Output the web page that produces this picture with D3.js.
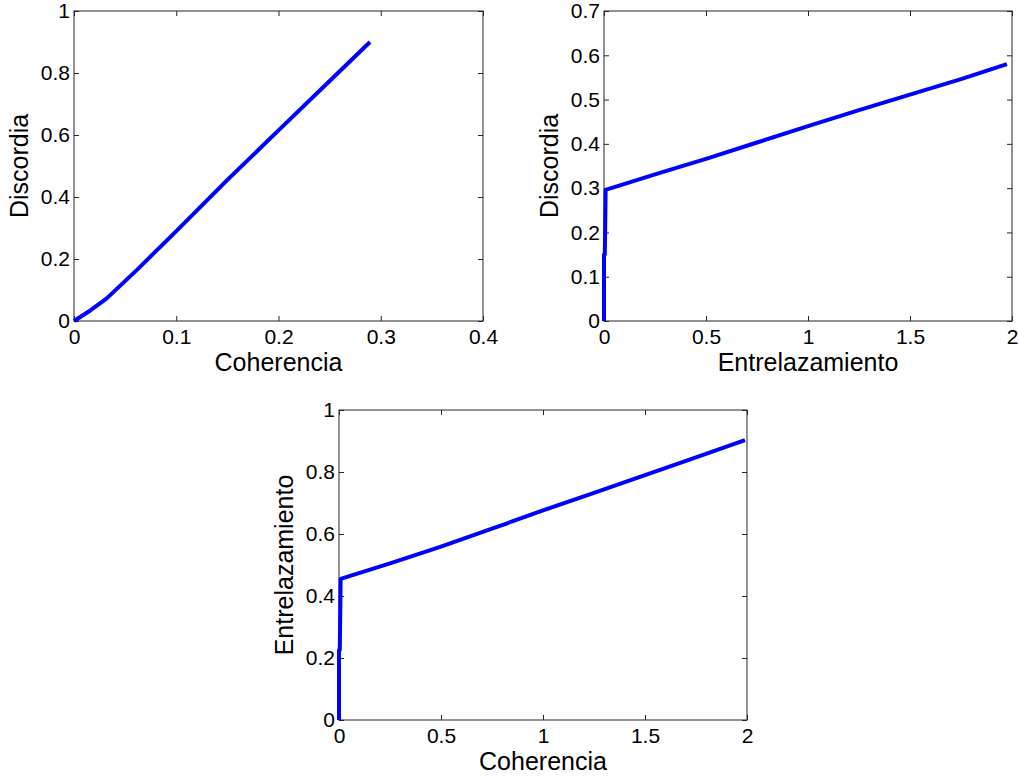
<!DOCTYPE html>
<html>
<head>
<meta charset="utf-8">
<script src="https://cdn.jsdelivr.net/npm/d3@7"></script>
<style>
  html, body { margin: 0; padding: 0; background: #fff; }
  svg { display: block; font-family: "Liberation Sans", Arial, Helvetica, sans-serif; }
</style>
</head>
<body>
<svg id="fig" width="1019" height="778"></svg>
<script>
// Discordia vs Coherencia
const coherenciaA = [0, 0.016, 0.032, 0.0616, 0.1, 0.15, 0.2, 0.25, 0.2895];
const discordiaA  = [0, 0.034, 0.073, 0.165, 0.29, 0.455, 0.615, 0.774, 0.90];

// Discordia vs Entrelazamiento
const entrelazamientoB = [0, 0, 0.004, 0.008, 0.25, 0.5, 0.75, 1.0, 1.25, 1.5, 1.75, 1.975];
const discordiaB       = [0, 0.15, 0.15, 0.296, 0.331, 0.366, 0.403, 0.44, 0.476, 0.511, 0.546, 0.58];

// Entrelazamiento vs Coherencia
const coherenciaC      = [0, 0, 0.004, 0.008, 0.25, 0.5, 0.75, 1.0, 1.25, 1.5, 1.75, 1.99];
const entrelazamientoC = [0, 0.226, 0.226, 0.455, 0.505, 0.559, 0.617, 0.676, 0.733, 0.79, 0.847, 0.903];

// Axis ticks
const ticksA_x = [0, 0.1, 0.2, 0.3, 0.4];
const ticksA_y = [0, 0.2, 0.4, 0.6, 0.8, 1];
const ticksB_x = [0, 0.5, 1, 1.5, 2];
const ticksB_y = [0, 0.1, 0.2, 0.3, 0.4, 0.5, 0.6, 0.7];
const ticksC_x = [0, 0.5, 1, 1.5, 2];
const ticksC_y = [0, 0.2, 0.4, 0.6, 0.8, 1];

const svg = d3.select("#fig");
const fmt = d => String(+d.toFixed(4));

function panel(opt) {
  const { left, top, right, bottom } = opt.box;
  const x = d3.scaleLinear().domain(opt.xDomain).range([left, right]);
  const y = d3.scaleLinear().domain(opt.yDomain).range([bottom, top]);
  const g = svg.append("g");
  const tickLen = 5;
  const axisColor = "#262626";

  // frame
  g.append("rect")
    .attr("x", left).attr("y", top)
    .attr("width", right - left).attr("height", bottom - top)
    .attr("fill", "none").attr("stroke", axisColor).attr("stroke-width", 1);

  // inward ticks on all four sides
  const bx = d3.axisBottom(x).tickValues(opt.xTicks).tickSizeInner(-tickLen).tickSizeOuter(0).tickFormat(fmt).tickPadding(8);
  const tx = d3.axisTop(x).tickValues(opt.xTicks).tickSizeInner(-tickLen).tickSizeOuter(0).tickFormat("");
  const ly = d3.axisLeft(y).tickValues(opt.yTicks).tickSizeInner(-tickLen).tickSizeOuter(0).tickFormat(fmt).tickPadding(4);
  const ry = d3.axisRight(y).tickValues(opt.yTicks).tickSizeInner(-tickLen).tickSizeOuter(0).tickFormat("");

  const axes = [
    g.append("g").attr("transform", `translate(0,${bottom})`).call(bx),
    g.append("g").attr("transform", `translate(0,${top})`).call(tx),
    g.append("g").attr("transform", `translate(${left},0)`).call(ly),
    g.append("g").attr("transform", `translate(${right},0)`).call(ry)
  ];
  axes.forEach(a => {
    a.select(".domain").remove();
    a.selectAll("line").attr("stroke", axisColor);
    a.selectAll("text").attr("fill", "#000").style("font-size", "21px")
      .style("font-family", '"Liberation Sans", Arial, sans-serif');
  });
  axes[0].selectAll("text").attr("dy", "0.71em");

  // data line
  const pts = opt.xs.map((v, i) => [v, opt.ys[i]]);
  g.append("path")
    .datum(pts)
    .attr("fill", "none")
    .attr("stroke", "#0000ff")
    .attr("stroke-width", 4)
    .attr("stroke-linejoin", "round")
    .attr("stroke-linecap", "butt")
    .attr("d", d3.line().x(d => x(d[0])).y(d => y(d[1])));

  // axis labels
  g.append("text")
    .attr("x", (left + right) / 2).attr("y", bottom + 50)
    .attr("text-anchor", "middle")
    .style("font-size", "25px")
    .text(opt.xLabel);
  g.append("text")
    .attr("transform", `translate(${left - 46},${(top + bottom) / 2}) rotate(-90)`)
    .attr("text-anchor", "middle")
    .style("font-size", "25px")
    .text(opt.yLabel);
}

panel({
  box: { left: 74, top: 11, right: 483, bottom: 321 },
  xDomain: [0, 0.4], yDomain: [0, 1],
  xTicks: ticksA_x, yTicks: ticksA_y,
  xs: coherenciaA, ys: discordiaA,
  xLabel: "Coherencia", yLabel: "Discordia"
});

panel({
  box: { left: 604, top: 11, right: 1012, bottom: 321 },
  xDomain: [0, 2], yDomain: [0, 0.7],
  xTicks: ticksB_x, yTicks: ticksB_y,
  xs: entrelazamientoB, ys: discordiaB,
  xLabel: "Entrelazamiento", yLabel: "Discordia"
});

panel({
  box: { left: 339, top: 410, right: 747, bottom: 720 },
  xDomain: [0, 2], yDomain: [0, 1],
  xTicks: ticksC_x, yTicks: ticksC_y,
  xs: coherenciaC, ys: entrelazamientoC,
  xLabel: "Coherencia", yLabel: "Entrelazamiento"
});
</script>
</body>
</html>
